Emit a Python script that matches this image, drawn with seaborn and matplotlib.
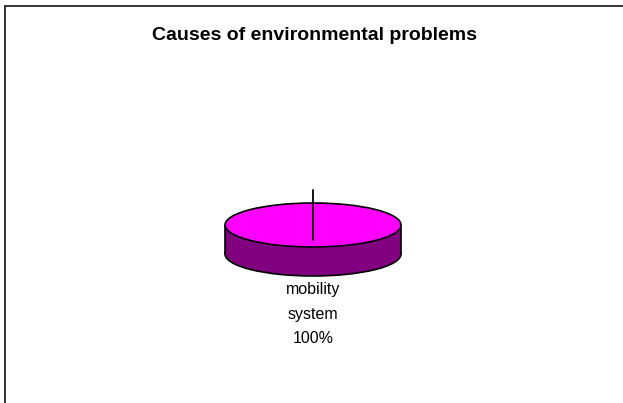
import textwrap

import matplotlib
matplotlib.use("Agg")
import matplotlib.pyplot as plt
from matplotlib.patches import Rectangle
import seaborn as sns

# data
causes = ["mobility system"]
shares = [100]
top_colors = ["#FF00FF"]
side_colors = ["#800080"]

sns.set_theme(style="white")
plt.rcParams['font.family'] = ['Liberation Sans', 'DejaVu Sans']

W, H = 623, 403
fig = plt.figure(figsize=(W / 100, H / 100), dpi=100)
fig.patch.set_facecolor("white")

# pie geometry in pixels (ellipse top + side depth)
cx, cy = 313, 225
rx, ry = 88, 22
depth = 29
d = depth / ry

# axes so that radius 1 -> rx px horizontally, ry px vertically
xl = (-1.2, 1.2)
yl = (-5.0, 2.0)
ax = fig.add_axes([(cx + xl[0] * rx) / W, (H - cy + yl[0] * ry) / H,
                   (xl[1] - xl[0]) * rx / W, (yl[1] - yl[0]) * ry / H])

total = sum(shares)
labels = [f"{textwrap.fill(c, 9)}\n{s / total:.0%}" for c, s in zip(causes, shares)]

# side of the disc: bottom pie, filled band, and outline
ax.pie(shares, colors=side_colors, center=(0, -d), radius=1, startangle=90,
       wedgeprops=dict(edgecolor="black", linewidth=1.2), frame=True)
ax.fill_between([-1, 1], [-d, -d], [0, 0], color=side_colors[0], lw=0)
ax.vlines([-1, 1], -d, 0, color="black", lw=1.2)

# top of the disc
wedges, texts = ax.pie(shares, colors=top_colors, center=(0, 0), radius=1,
                       startangle=90, labels=labels, labeldistance=4.05,
                       wedgeprops=dict(edgecolor="black", linewidth=1.2),
                       textprops=dict(fontsize=11.5, color="black", linespacing=1.82),
                       frame=True)
for t in texts:
    t.set_ha("center")
    t.set_va("center")

# slice boundary / leader line
ax.plot([0, 0], [-0.68, 1.6], color="black", lw=1.3, clip_on=False)

ax.set_xlim(*xl)
ax.set_ylim(*yl)
ax.set_aspect("auto")
ax.axis("off")

fig.text(314 / W, 1 - 35 / H, "Causes of environmental problems",
         ha="center", va="center", fontsize=14, fontweight="bold", color="black")

# chart area border (only top and left are inside the picture)
fig.patches.append(Rectangle((4.5 / W, -0.1), 1.2, (H - 6.5) / H + 0.1,
                             transform=fig.transFigure, fill=False,
                             edgecolor="#333333", linewidth=1.4))

fig.savefig("out.png", dpi=100)
